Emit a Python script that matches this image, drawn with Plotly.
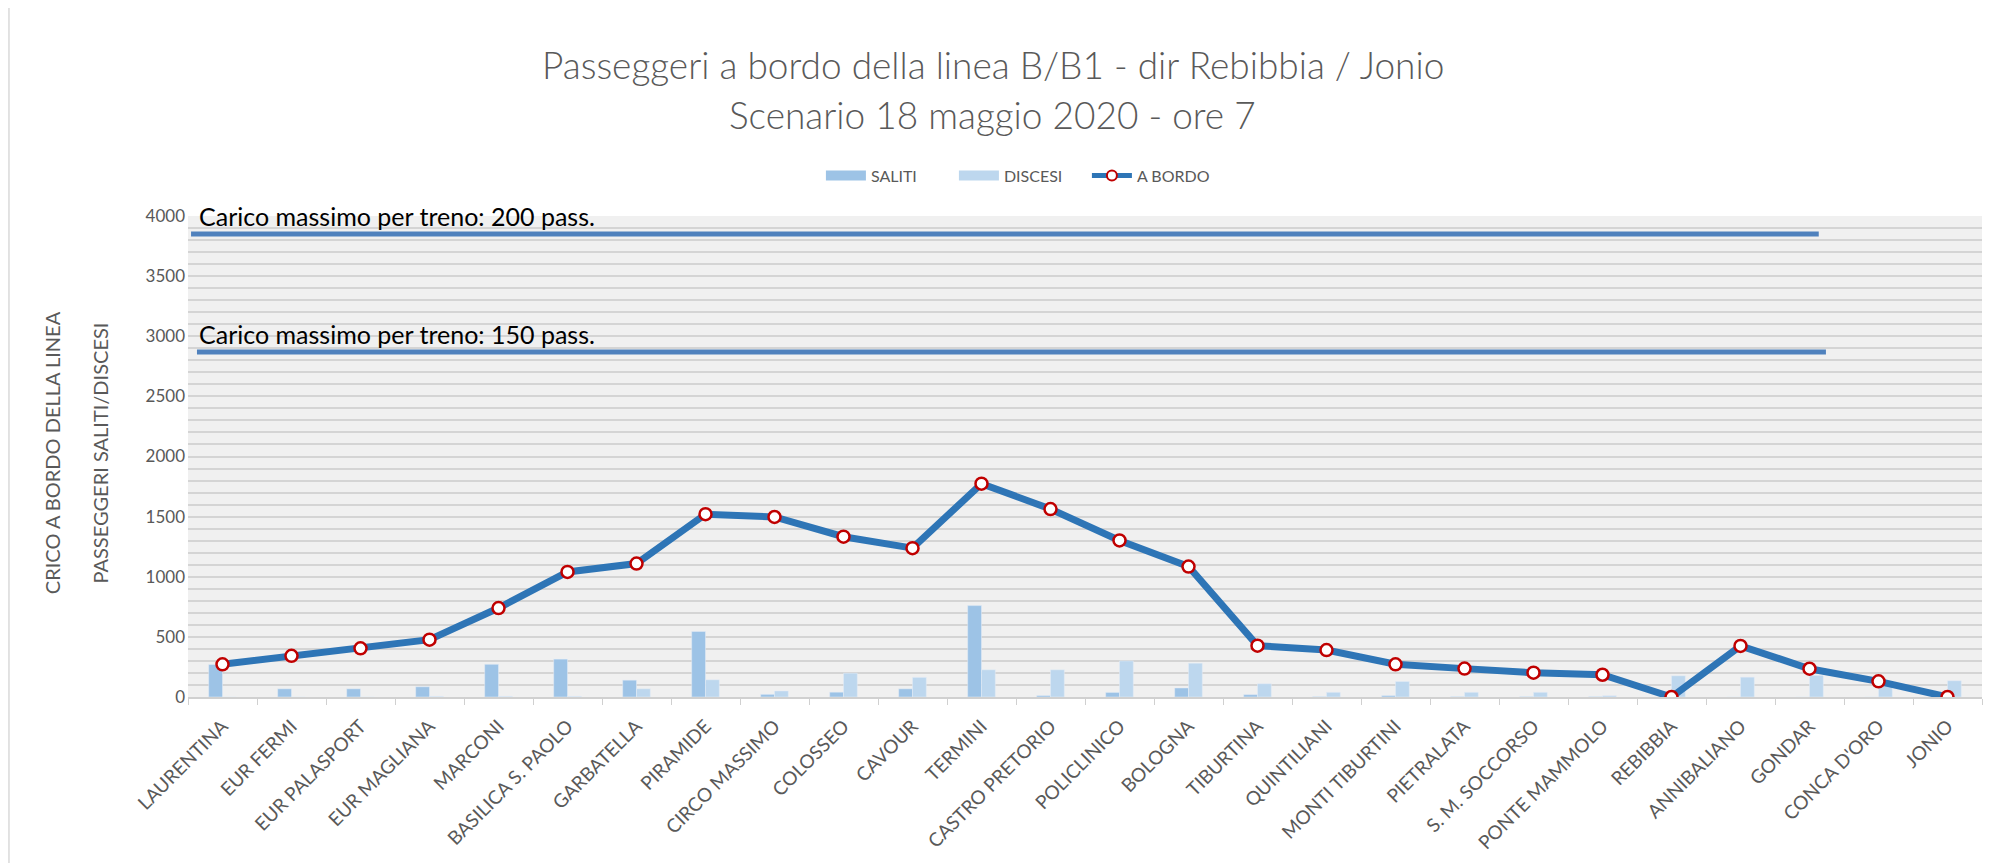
import plotly.graph_objects as go

stations = ["LAURENTINA", "EUR FERMI", "EUR PALASPORT", "EUR MAGLIANA", "MARCONI",
            "BASILICA S. PAOLO", "GARBATELLA", "PIRAMIDE", "CIRCO MASSIMO", "COLOSSEO",
            "CAVOUR", "TERMINI", "CASTRO PRETORIO", "POLICLINICO", "BOLOGNA", "TIBURTINA",
            "QUINTILIANI", "MONTI TIBURTINI", "PIETRALATA", "S. M. SOCCORSO",
            "PONTE MAMMOLO", "REBIBBIA", "ANNIBALIANO", "GONDAR", "CONCA D'ORO", "JONIO"]

saliti = [270, 68, 68, 85, 272, 315, 140, 545, 22, 40, 68, 760, 12, 38, 75, 20,
          3, 12, 3, 3, 3, 0, 0, 0, 0, 0]
discesi = [0, 0, 0, 5, 5, 5, 68, 143, 50, 198, 163, 226, 226, 300, 281, 110,
           39, 129, 39, 39, 11, 176, 165, 180, 95, 135]
a_bordo = [272, 342, 405, 477, 740, 1040, 1110, 1520, 1497, 1333, 1238, 1774, 1563,
           1302, 1085, 427, 390, 272, 236, 202, 185, 0, 425, 235, 130, 0]

cap_labels = ["Carico massimo per treno: 200 pass.", "Carico massimo per treno: 150 pass."]
cap_values = [3850, 2870]

title_lines = ["Passeggeri a bordo della linea B/B1 - dir Rebibbia / Jonio",
               "Scenario 18 maggio 2020 - ore 7"]

FONT = "Lato"
GRAY = "#595959"
C_SAL = "#9DC3E6"
C_DIS = "#BDD7EE"
C_LINE = "#2E75B6"

fig = go.Figure()
fig.add_trace(go.Bar(x=stations, y=saliti, name="SALITI", marker_color=C_SAL, showlegend=False))
fig.add_trace(go.Bar(x=stations, y=discesi, name="DISCESI", marker_color=C_DIS, showlegend=False))
fig.add_trace(go.Scatter(x=stations, y=a_bordo, name="A BORDO", mode="lines+markers",
                         line=dict(color=C_LINE, width=7), showlegend=False,
                         marker=dict(symbol="circle", size=12, color="white",
                                     line=dict(color="#C00000", width=2.5))))
# legend entries (wide swatches like the original)
fig.add_trace(go.Scatter(x=[None], y=[None], name="SALITI", mode="lines",
                         line=dict(color=C_SAL, width=10)))
fig.add_trace(go.Scatter(x=[None], y=[None], name="DISCESI", mode="lines",
                         line=dict(color=C_DIS, width=10)))
fig.add_trace(go.Scatter(x=[None], y=[None], name="A BORDO", mode="lines+markers",
                         line=dict(color=C_LINE, width=5),
                         marker=dict(symbol="circle", size=10, color="white",
                                     line=dict(color="#C00000", width=2))))

shapes = []
annotations = []
cap_x = [(0.0017, 0.909), (0.005, 0.913)]
for lab, val, (x0, x1) in zip(cap_labels, cap_values, cap_x):
    shapes.append(dict(type="line", xref="paper", yref="y", x0=x0, x1=x1, y0=val, y1=val,
                       line=dict(color="#4F81BD", width=5), layer="above"))
    annotations.append(dict(text=lab, xref="paper", yref="y", x=0.005, y=val + 5,
                            xanchor="left", yanchor="bottom", showarrow=False,
                            font=dict(family=FONT, size=25, color="black")))

# left border of chart area
shapes.append(dict(type="line", xref="paper", yref="paper", x0=-0.0998, x1=-0.0998,
                   y0=-0.37, y1=1.44, line=dict(color="#d9d9d9", width=1.5)))

annotations.append(dict(text=title_lines[0], xref="paper", yref="paper", x=0.4487, y=1.314,
                        xanchor="center", yanchor="middle", showarrow=False,
                        font=dict(family=FONT, size=37, color=GRAY, weight=300)))
annotations.append(dict(text=title_lines[1], xref="paper", yref="paper", x=0.4487, y=1.211,
                        xanchor="center", yanchor="middle", showarrow=False,
                        font=dict(family=FONT, size=37, color=GRAY, weight=300)))
annotations.append(dict(text="PASSEGGERI SALITI/DISCESI", xref="paper", yref="paper",
                        x=-0.0488, y=0.507, textangle=-90, showarrow=False,
                        xanchor="center", yanchor="middle",
                        font=dict(family=FONT, size=20, color=GRAY)))
annotations.append(dict(text="CRICO A BORDO DELLA LINEA", xref="paper", yref="paper",
                        x=-0.0758, y=0.507, textangle=-90, showarrow=False,
                        xanchor="center", yanchor="middle",
                        font=dict(family=FONT, size=20, color=GRAY)))

fig.update_layout(
    width=1995, height=863,
    margin=dict(l=180, r=21, t=208, b=174, autoexpand=False),
    paper_bgcolor="white", plot_bgcolor="#f0f0f0",
    barmode="group", bargap=0.6, bargroupgap=0,
    font=dict(family=FONT, color=GRAY),
    showlegend=True,
    legend=dict(orientation="h", x=0.464, y=1.084, xanchor="center", yanchor="middle",
                font=dict(family=FONT, size=16, color=GRAY), bgcolor="rgba(0,0,0,0)",
                itemwidth=40, entrywidth=78),
    shapes=shapes, annotations=annotations,
)
fig.update_xaxes(type="category", range=[-0.5, len(stations) - 0.5], automargin=False,
                 tickangle=-45, tickfont=dict(family=FONT, size=19, color=GRAY),
                 showline=True, linecolor="#d0d0d0", linewidth=1.5, ticks="outside",
                 tickson="boundaries", ticklen=6, tickcolor="#d0d0d0", showgrid=False,
                 ticklabelstandoff=9)
fig.update_yaxes(range=[0, 4000], dtick=500, tick0=0, showgrid=True, gridcolor="#d4d4d4",
                 gridwidth=2, zeroline=False, ticks="", ticklabelstandoff=2, automargin=False,
                 tickfont=dict(family=FONT, size=17, color=GRAY),
                 minor=dict(dtick=100, showgrid=True, gridcolor="#d4d4d4", gridwidth=2))

fig.write_html("out.html")
